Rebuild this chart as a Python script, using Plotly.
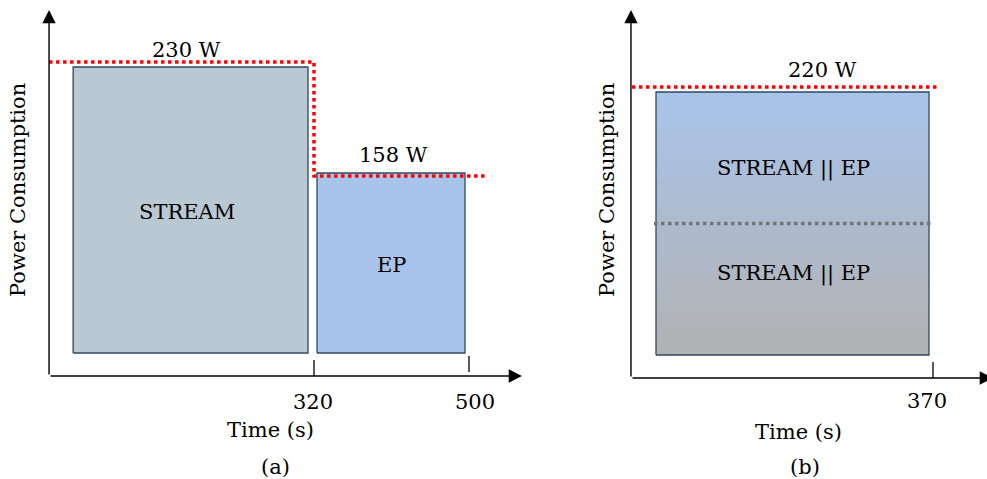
import plotly.graph_objects as go

# ---------------- data ----------------
a_tasks = ["STREAM", "EP"]
a_start_times = [0, 320]
a_end_times = [320, 500]
a_power = [230, 158]
a_tick_values = [320, 500]
a_tick_labels = ["320", "500"]

b_task_labels = ["STREAM || EP", "STREAM || EP"]
b_start_time = 0
b_end_time = 370
b_power = 220
b_tick_values = [370]
b_tick_labels = ["370"]

power_unit = "W"
x_title = "Time (s)"
y_title = "Power Consumption"
panel_names = ["(a)", "(b)"]

# ---------------- style / layout ----------------
W, H = 987, 479
FONT = "DejaVu Serif"
FS = 21
BLACK = "#000000"
RED = "rgb(255,0,0)"
GRAY_DOT = "rgb(115,115,115)"
EDGE = "rgb(46,72,98)"
FILL_A = ["rgb(185,200,211)", "rgb(169,196,234)"]
GRAD_TOP = "rgb(169,196,234)"
GRAD_BOT = "rgb(178,178,178)"

SX = 155 / 180.0   # px per second
SY = 114 / 72.0    # px per watt
SPLIT = 0.58


def xr(anchor_t, anchor_px, px0, px1):
    return [anchor_t + (px0 - anchor_px) / SX, anchor_t + (px1 - anchor_px) / SX]


def yr(anchor_w, anchor_px):
    return [anchor_w - (H - anchor_px) / SY, anchor_w + anchor_px / SY]


def dx(px):
    return px / SX


def dy(px):
    return px / SY


fig = go.Figure()
shapes = []
ann = []

ARROW = dict(showarrow=True, arrowhead=2, arrowsize=1.9, arrowwidth=1.4,
             arrowcolor=BLACK, text="")

# ====== panel (a) ======
a_base = a_power[0] - dy(291)          # rect bottom
a_axis_y = a_power[0] - dy(314)        # x-axis line
a_axis_x = a_start_times[0] + dx(10.6) # y-axis line
a_left_inset = [dx(34.7), dx(3)]
a_right_inset = [dx(6), dx(4)]
a_top_off = [-dy(5), dy(3)]

for i, task in enumerate(a_tasks):
    x0 = a_start_times[i] + a_left_inset[i]
    x1 = a_end_times[i] - a_right_inset[i]
    top = a_power[i] + a_top_off[i]
    fig.add_trace(go.Scatter(
        x=[x0, x1, x1, x0, x0], y=[a_base, a_base, top, top, a_base],
        mode="lines", fill="toself", fillcolor=FILL_A[i],
        line=dict(color=EDGE, width=1.3), xaxis="x", yaxis="y",
        hoverinfo="skip", showlegend=False))
    ann.append(dict(x=(x0 + x1) / 2, y=(a_base + top) / 2, xref="x", yref="y",
                    text=task, showarrow=False, xshift=-4 if i == 0 else 0,
                    yshift=-2))
    ann.append(dict(x=(x0 + x1) / 2, y=top, xref="x", yref="y",
                    text=f"{a_power[i]} {power_unit}", showarrow=False,
                    xshift=-4 if i == 0 else 2, yshift=17 if i == 0 else 18))

# red dotted envelope
red_x = [a_axis_x, a_end_times[0], a_end_times[0], a_end_times[1] + dx(18)]
red_y = [a_power[0], a_power[0], a_power[1], a_power[1]]
fig.add_trace(go.Scatter(x=red_x, y=red_y, mode="lines",
                         line=dict(color=RED, width=3.5, dash="dot"),
                         xaxis="x", yaxis="y", hoverinfo="skip", showlegend=False))

# ticks and labels
a_tick_gap = [0, 4]
a_lab_shift = [-1, 6]
for i, t in enumerate(a_tick_values):
    shapes.append(dict(type="line", xref="x", yref="y", ysizemode="pixel",
                       yanchor=a_axis_y, x0=t, x1=t, y0=a_tick_gap[i],
                       y1=a_tick_gap[i] + 16, line=dict(color=BLACK, width=1.3)))
    ann.append(dict(x=t, y=a_axis_y, xref="x", yref="y", text=a_tick_labels[i],
                    showarrow=False, xshift=a_lab_shift[i], yshift=-26))

# axes arrows
ann.append(dict(x=a_axis_x, y=a_power[0] + dy(52), ax=a_axis_x, ay=a_axis_y,
                xref="x", yref="y", axref="x", ayref="y", **ARROW))
ann.append(dict(x=a_tick_values[0] + dx(208), y=a_axis_y, ax=a_axis_x, ay=a_axis_y,
                xref="x", yref="y", axref="x", ayref="y", **ARROW))

# ====== panel (b) ======
b_base = b_power - dy(268)
b_axis_y = b_power - dy(291)
b_axis_x = b_start_time + dx(16.6)
bx0 = b_start_time + dx(41.6)
bx1 = b_end_time - dx(4)
btop = b_power - dy(5)
bmid = (b_base + btop) / 2

fig.add_trace(go.Scatter(
    x=[bx0, bx1, bx1, bx0, bx0], y=[b_base, b_base, btop, btop, b_base],
    mode="lines", fill="toself",
    fillgradient=dict(type="vertical",
                      colorscale=[[0, GRAD_BOT], [1, GRAD_TOP]]),
    line=dict(color=EDGE, width=1.3), xaxis="x2", yaxis="y2",
    hoverinfo="skip", showlegend=False))

fig.add_trace(go.Scatter(x=[b_start_time + dx(17.6), b_end_time + dx(5)],
                         y=[b_power, b_power], mode="lines",
                         line=dict(color=RED, width=3.5, dash="dot"),
                         xaxis="x2", yaxis="y2", hoverinfo="skip", showlegend=False))
fig.add_trace(go.Scatter(x=[bx0 - dx(2), b_end_time], y=[bmid, bmid], mode="lines",
                         line=dict(color=GRAY_DOT, width=3.5, dash="dot"),
                         xaxis="x2", yaxis="y2", hoverinfo="skip", showlegend=False))

ann.append(dict(x=(bx0 + bx1) / 2, y=b_power, xref="x2", yref="y2",
                text=f"{b_power} {power_unit}", showarrow=False, xshift=30, yshift=17))
ann.append(dict(x=(bx0 + bx1) / 2, y=bmid, xref="x2", yref="y2",
                text=b_task_labels[0], showarrow=False, xshift=1, yshift=55))
ann.append(dict(x=(bx0 + bx1) / 2, y=bmid, xref="x2", yref="y2",
                text=b_task_labels[1], showarrow=False, xshift=1, yshift=-50))

for i, t in enumerate(b_tick_values):
    shapes.append(dict(type="line", xref="x2", yref="y2", ysizemode="pixel",
                       yanchor=b_axis_y, x0=t, x1=t, y0=0, y1=16,
                       line=dict(color=BLACK, width=1.3)))
    ann.append(dict(x=t, y=b_axis_y, xref="x2", yref="y2", text=b_tick_labels[i],
                    showarrow=False, xshift=-6, yshift=-23))

ann.append(dict(x=b_axis_x, y=b_power + dy(77), ax=b_axis_x, ay=b_axis_y,
                xref="x2", yref="y2", axref="x2", ayref="y2", **ARROW))
ann.append(dict(x=b_end_time + dx(60), y=b_axis_y, ax=b_axis_x, ay=b_axis_y,
                xref="x2", yref="y2", axref="x2", ayref="y2", **ARROW))

# ====== titles (paper coords) ======
def P(px, py):
    return px / W, 1 - py / H

for (px, py, txt, ang) in [(270, 430, x_title, 0), (798, 432, x_title, 0),
                           (275, 467, panel_names[0], 0), (805, 467, panel_names[1], 0),
                           (18, 190, y_title, -90), (607, 190, y_title, -90)]:
    x, y = P(px, py)
    ann.append(dict(x=x, y=y, xref="paper", yref="paper", text=txt,
                    showarrow=False, textangle=ang, xanchor="center", yanchor="middle"))

axis_common = dict(visible=False, showgrid=False, zeroline=False, fixedrange=True)
fig.update_layout(
    width=W, height=H,
    margin=dict(l=0, r=0, t=0, b=0),
    paper_bgcolor="white", plot_bgcolor="white",
    font=dict(family=FONT, size=FS, color=BLACK),
    showlegend=False,
    xaxis=dict(domain=[0, SPLIT], range=xr(a_tick_values[0], 314, 0, SPLIT * W), **axis_common),
    yaxis=dict(domain=[0, 1], range=yr(a_power[0], 62), **axis_common),
    xaxis2=dict(domain=[SPLIT, 1], range=xr(b_end_time, 933, SPLIT * W, W), anchor="y2", **axis_common),
    yaxis2=dict(domain=[0, 1], range=yr(b_power, 87), anchor="x2", **axis_common),
    shapes=shapes,
    annotations=ann,
)

fig.write_html("out.html")
